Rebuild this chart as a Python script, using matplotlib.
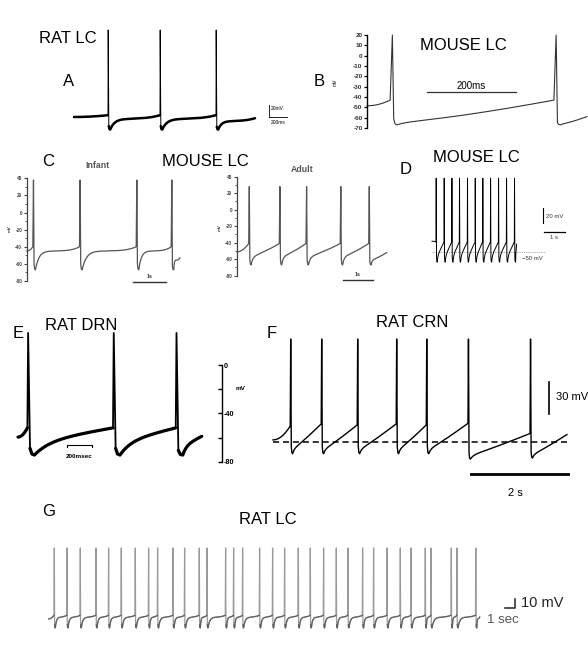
import numpy as np
import matplotlib
matplotlib.use("Agg")
import matplotlib.pyplot as plt

plt.rcParams['font.family'] = ['Liberation Sans', 'DejaVu Sans']

W, H = 588, 662

# ---------------- data ----------------
# Panel A  (RAT LC)            times in s, voltages in mV
A_SPIKES = [0.34, 0.86, 1.42]
A_TRANGE = (0.0, 1.81)
A_VSTART, A_VEND = -55, -57
A_PEAK, A_THRESH, A_TROUGH = 90, -52, -76

# Panel B  (MOUSE LC)
B_SPIKES = [0.052, 0.420]
B_TRANGE = (0.0, 0.494)
B_VSTART, B_VEND = -48.5, -59
B_PEAK, B_THRESH, B_TROUGH = 20, -43, -67
B_YTICKS = [20, 10, 0, -10, -20, -30, -40, -50, -60, -70]

# Panel C  (MOUSE LC, infant / adult)
C1_SPIKES = [0.18, 1.62, 3.37, 4.45]
C1_TRANGE = (0.0, 4.72)
C1_VSTART, C1_VEND = -45, -53
C1_PEAK, C1_THRESH, C1_TROUGH = 38, -40, -67
C2_SPIKES = [0.39, 1.41, 2.30, 3.44, 4.39]
C2_TRANGE = (0.0, 4.99)
C2_VSTART, C2_VEND = -51, -52
C2_PEAK, C2_THRESH, C2_TROUGH = 28, -41, -67
C_YTICKS = [40, 20, 0, -20, -40, -60, -80]

# Panel D  (MOUSE LC)
D_SPIKES = [0.19, 0.571, 0.938, 1.30, 1.68, 2.05, 2.41, 2.78, 3.16, 3.54, 3.92]
D_TRANGE = (0.0, 4.03)
D_VSTART, D_VEND = -36, -40
D_PEAK, D_THRESH, D_TROUGH = 48, -37, -64

# Panel E  (RAT DRN)
E_SPIKES = [0.075, 0.76, 1.262]
E_TRANGE = (0.0, 1.47)
E_VSTART, E_VEND = -59.6, -59
E_PEAK, E_THRESH, E_TROUGH = 26.5, -52, -74.5
E_YTICKS = [0, -20, -40, -60, -80]
E_YLABELS = ['0', '', '-40', '', '-80']

# Panel F  (RAT CRN)
F_SPIKES = [0.355, 0.994, 1.736, 2.54, 3.16, 4.02, 5.30]
F_TRANGE = (0.0, 6.06)
F_VSTART, F_VEND = -58, -53
F_PEAK = 36.5
F_THRESH = [-45, -43, -44, -43, -44, -42.5, -52]
F_TROUGH = [-71, -71, -71, -71, -71, -76, -75]
F_REST = -60

# Panel G  (RAT LC)
G_SPIKES = [0.53, 1.80, 3.13, 4.70, 5.96, 7.23, 8.63, 9.96, 10.86, 12.40,
            13.56, 15.03, 15.80, 17.66, 18.46, 19.36, 21.06, 22.36, 23.56,
            24.93, 26.13, 27.46, 28.73, 29.90, 31.36, 32.46, 33.80, 35.13,
            36.20, 37.63, 38.20, 40.23, 40.80, 42.68]
G_TRANGE = (0.0, 43.1)
G_VSTART, G_VEND = -56, -54
G_PEAK, G_THRESH, G_TROUGH = 22.8, -52, -66


# ---------------- helpers ----------------
def build(spk, trange, v0, v1, pk, th, tr, up, dn, a, k, p, n=80):
    spk = np.asarray(spk, float)
    th = np.broadcast_to(np.asarray(th, float), spk.shape)
    tr = np.broadcast_to(np.asarray(tr, float), spk.shape)
    pk = np.broadcast_to(np.asarray(pk, float), spk.shape)

    def seg(ta, tb, va, vb, a_, k_, p_):
        s = np.linspace(0, 1, n)
        f = a_ * (1 - np.exp(-s / k_)) / (1 - np.exp(-1 / k_)) + (1 - a_) * s ** p_
        return list(ta + s * (tb - ta)), list(va + f * (vb - va))

    T, V = seg(trange[0], spk[0], v0, th[0], 0.0, 1.0, 2.0)
    for i, ts in enumerate(spk):
        nxt_th = th[i + 1] if i < len(spk) - 1 else v1
        T += [ts + up, ts + up + 0.3 * dn, ts + up + 0.6 * dn, ts + up + dn]
        V += [pk[i], tr[i] + 0.25 * (nxt_th - tr[i]), tr[i] + 0.04 * (nxt_th - tr[i]), tr[i]]
        if i < len(spk) - 1:
            t_, v_ = seg(ts + up + dn, spk[i + 1], tr[i], th[i + 1], a, k, p)
        else:
            t_, v_ = seg(ts + up + dn, trange[1], tr[i], v1, a, k, p)
        T += t_
        V += v_
    return np.array(T), np.array(V)


def panel_ax(left, top, right, bottom, x_ref, sx, y_ref, sy):
    ax = fig.add_axes([left / W, 1 - bottom / H, (right - left) / W, (bottom - top) / H])
    ax.set_xlim((left - x_ref) / sx, (right - x_ref) / sx)
    ax.set_ylim((y_ref - bottom) / sy, (y_ref - top) / sy)
    ax.set_facecolor('none')
    return ax


def ftext(x, y, s, size, ha='center', va='center', **kw):
    fig.text(x / W, 1 - y / H, s, fontsize=size, ha=ha, va=va, **kw)


fig = plt.figure(figsize=(W / 100, H / 100), dpi=100)
fig.patch.set_facecolor('white')

TITLE = 12

# ---------------- Panel A ----------------
axA = panel_ax(55, 20, 300, 145, 74, 100, 84, 0.6)
axA.axis('off')
t, v = build(A_SPIKES, A_TRANGE, A_VSTART, A_VEND, A_PEAK, A_THRESH, A_TROUGH,
             0.002, 0.02, 0.75, 0.09, 4)
axA.plot(t, v, color='black', lw=0.7, clip_on=False)
axA.plot(t, np.where(v > A_THRESH + 4, np.nan, v), color='black', lw=1.8,
         clip_on=False, solid_joinstyle='round', solid_capstyle='round')
axA.plot([1.953, 1.953], [-55, -35], color='black', lw=0.6, clip_on=False)
axA.plot([1.953, 2.13], [-55, -55], color='black', lw=0.6, clip_on=False)
ftext(271, 109, '20mV', 3.5, ha='left')
ftext(270.5, 122, '200ms', 3.5, ha='left')
ftext(67.5, 38.5, 'RAT LC', TITLE)
ftext(68.5, 82, 'A', TITLE)

# ---------------- Panel B ----------------
axB = panel_ax(367, 35, 588, 128, 367, 445, 55.7, 1.033)
for s in ['top', 'right', 'bottom']:
    axB.spines[s].set_visible(False)
axB.spines['left'].set_linewidth(1.0)
axB.set_xticks([])
axB.set_yticks(B_YTICKS)
axB.set_yticklabels([str(x) for x in B_YTICKS], fontsize=4.6, fontweight='bold', color='#333333')
axB.tick_params(axis='y', length=2.5, width=0.9, pad=0.8, direction='out')
t, v = build(B_SPIKES, B_TRANGE, B_VSTART, B_VEND, B_PEAK, B_THRESH, B_TROUGH,
             0.005, 0.01, 0.1, 0.05, 1.3)
axB.plot(t, v, color='#333333', lw=0.8, clip_on=False)
axB.plot([0.135, 0.335], [-35, -35], color='#333333', lw=0.9, clip_on=False)
ftext(471, 86, '200ms', 7)
ftext(335, 82, 'mV', 3.5, rotation=90)
ftext(319, 82, 'B', TITLE)
ftext(463, 45, 'MOUSE LC', TITLE)

# ---------------- Panel C ----------------
def c_axis(ax):
    for s in ['top', 'right', 'bottom']:
        ax.spines[s].set_visible(False)
    ax.spines['left'].set_linewidth(0.9)
    ax.spines['left'].set_color('#444444')
    ax.set_xticks([])
    ax.set_yticks(C_YTICKS)
    ax.set_yticklabels([str(x) for x in C_YTICKS], fontsize=3.4, fontweight='bold', color='#444444')
    ax.set_yticks([30, 10, -10, -30, -50, -70], minor=True)
    ax.tick_params(axis='y', which='major', length=2.2, width=0.8, pad=1.2, color='#444444')
    ax.tick_params(axis='y', which='minor', length=1.2, width=0.6, color='#444444')

axC1 = panel_ax(27, 178.3, 185, 281, 27, 32.4, 212.5, 0.856)
c_axis(axC1)
t, v = build(C1_SPIKES, C1_TRANGE, C1_VSTART, C1_VEND, C1_PEAK, C1_THRESH, C1_TROUGH,
             0.02, 0.06, 0.82, 0.08, 6)
axC1.plot(t, v, color='#555555', lw=0.9, clip_on=False)
axC1.plot([3.28, 4.28], [-81.5, -81.5], color='#333333', lw=1.0, clip_on=False)
ftext(150, 277, '1s', 3.8, fontweight='bold', color='#333333')
ftext(10, 229, 'mV', 3.2, rotation=90, fontweight='bold', color='#444444')

axC2 = panel_ax(237, 176.7, 390, 275.7, 237, 30, 209.7, 0.825)
c_axis(axC2)
t, v = build(C2_SPIKES, C2_TRANGE, C2_VSTART, C2_VEND, C2_PEAK, C2_THRESH, C2_TROUGH,
             0.02, 0.06, 0.4, 0.06, 1.3)
axC2.plot(t, v, color='#555555', lw=0.9, clip_on=False)
axC2.plot([3.53, 4.53], [-85, -85], color='#333333', lw=1.0, clip_on=False)
ftext(358, 274.5, '1s', 3.8, fontweight='bold', color='#333333')
ftext(220, 228, 'mV', 3.2, rotation=90, fontweight='bold', color='#444444')

ftext(48, 162, 'C', TITLE)
ftext(205, 161.5, 'MOUSE LC', TITLE)
ftext(97, 165.5, 'Infant', 6.3, fontweight='bold', color='#555555')
ftext(302, 169.5, 'Adult', 6.3, fontweight='bold', color='#555555')

# ---------------- Panel D ----------------
axD = panel_ax(425, 170, 588, 280, 432, 21, 214.2, 0.75)
axD.axis('off')
axD.plot([0, 5.38], [-50, -50], color='#888888', lw=0.6, ls=(0, (1, 1.2)), clip_on=False)
t, v = build(D_SPIKES, D_TRANGE, D_VSTART, D_VEND, D_PEAK, D_THRESH, D_TROUGH,
             0.01, 0.05, 0.3, 0.1, 1.0)
axD.plot(t, v, color='black', lw=0.7, clip_on=False)
axD.plot([5.30, 5.30], [-11.7, 8.3], color='black', lw=0.8, clip_on=False)
axD.plot([5.33, 6.33], [-24.1, -24.1], color='black', lw=0.9, clip_on=False)
ftext(546, 216.5, '20 mV', 4.3, ha='left', color='#333333')
ftext(554, 237.5, '1 s', 4.3, color='#333333')
ftext(522, 258, '\u221250 mV', 4.3, ha='left', color='#333333')
ftext(406, 170, 'D', TITLE)
ftext(476, 158, 'MOUSE LC', TITLE)

# ---------------- Panel E ----------------
axE = panel_ax(10, 320, 210, 470, 18, 125, 365, 1.209)
axE.axis('off')
t, v = build(E_SPIKES, E_TRANGE, E_VSTART, E_VEND, E_PEAK, E_THRESH, E_TROUGH,
             0.006, 0.05, 0.5, 0.2, 1.0)
axE.plot(t, v, color='black', lw=1.3, clip_on=False)
axE.plot(t, np.where(v > E_THRESH + 3, np.nan, v), color='black', lw=2.3,
         clip_on=False, solid_joinstyle='round', solid_capstyle='round')
axE.plot([0.39, 0.39, 0.59, 0.59], [-67.5, -66.3, -66.3, -67.5], color='black', lw=0.8, clip_on=False)
ftext(79.5, 457, '200msec', 4.6, fontweight='bold')
ftext(18, 333, 'E', TITLE)
ftext(81, 325, 'RAT DRN', TITLE)

axEs = fig.add_axes([205 / W, 1 - 461.7 / H, 16.7 / W, 96.7 / H])
axEs.set_ylim(-80, 0)
axEs.set_facecolor('none')
for s in ['top', 'left', 'bottom']:
    axEs.spines[s].set_visible(False)
axEs.spines['right'].set_linewidth(1.0)
axEs.set_xticks([])
axEs.yaxis.tick_right()
axEs.set_yticks(E_YTICKS)
axEs.set_yticklabels(E_YLABELS, fontsize=5.2, fontweight='bold')
axEs.tick_params(axis='y', direction='in', length=3.2, width=1.0, pad=1.5)
ftext(241, 388, 'mV', 4.6, fontweight='bold')

# ---------------- Panel F ----------------
axF = panel_ax(265, 320, 588, 500, 273, 48.5, 378, 1.067)
axF.axis('off')
axF.plot([0, 6.06], [F_REST, F_REST], color='black', lw=1.1, ls=(0, (4, 2.5)), clip_on=False)
t, v = build(F_SPIKES, F_TRANGE, F_VSTART, F_VEND, F_PEAK, F_THRESH, F_TROUGH,
             0.01, 0.04, 0.15, 0.05, 1.1)
axF.plot(t, v, color='black', lw=1.0, clip_on=False)
axF.plot([5.70, 5.70], [-33.7, -3.7], color='black', lw=1.2, clip_on=False)
axF.plot([4.08, 6.08], [-90, -90], color='black', lw=2.0, clip_on=False)
ftext(556, 397, '30 mV', 8, ha='left')
ftext(515, 493, '2 s', 8)
ftext(272, 333, 'F', TITLE)
ftext(412, 322, 'RAT CRN', TITLE)

# ---------------- Panel G ----------------
axG = panel_ax(40, 535, 588, 640, 48.7, 10, 568.5, 0.9)
axG.axis('off')
t, v = build(G_SPIKES, G_TRANGE, G_VSTART, G_VEND, G_PEAK, G_THRESH, G_TROUGH,
             0.03, 0.1, 0.85, 0.1, 4)
axG.plot(t, v, color='#9a9a9a', lw=0.9, clip_on=False)
axG.plot(t, np.where(v > G_THRESH + 3, np.nan, v), color='#606060', lw=0.9, clip_on=False)
axG.plot([45.6, 46.6, 46.6], [-43.9, -43.9, -33.9], color='#333333', lw=1.2, clip_on=False)
ftext(487, 620, '1 sec', 9.5, ha='left', color='#555555')
ftext(521, 603, '10 mV', 10.5, ha='left', color='#222222')
ftext(49, 511, 'G', TITLE)
ftext(268, 520, 'RAT LC', TITLE)

fig.savefig('out.png', dpi=100, facecolor='white')
